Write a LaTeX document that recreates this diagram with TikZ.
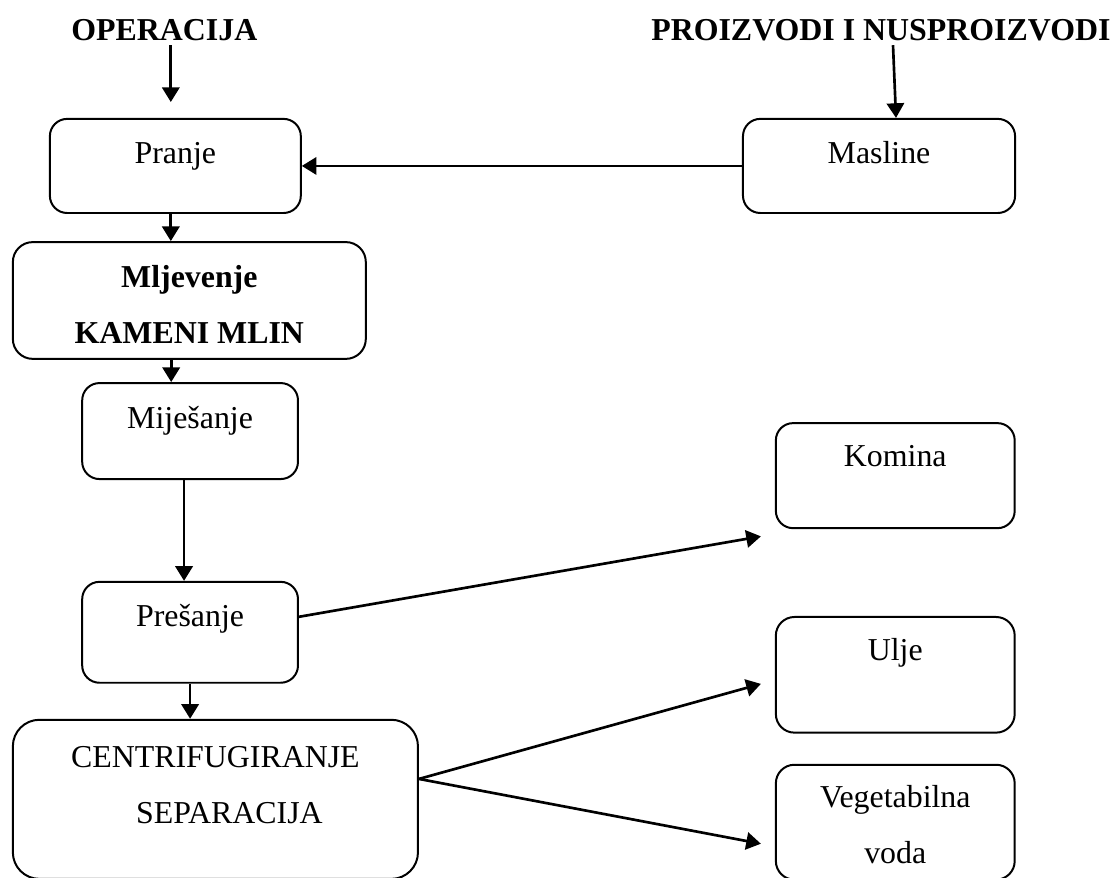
\documentclass[tikz,border=0pt]{standalone}
\usepackage{fontspec}
\setmainfont{Liberation Serif}
\usepackage{tikz}
\usetikzlibrary{positioning,arrows.meta}

\newcommand{\boxfont}{\fontsize{24}{42}\selectfont}

\begin{document}
\begin{tikzpicture}[
  box/.style={draw, line width=1.5pt, rounded corners=13pt, inner sep=0pt, align=center, anchor=north, font=\boxfont},
  head/.style={anchor=base, font=\boxfont\bfseries},
  arrow/.style={-{Triangle[length=11pt,width=13pt]}, line width=2pt},
]
\useasboundingbox (0,0) rectangle (29.61,23.23);

% Column headers
\node[head] (oper) at (4.35,22.17) {OPERACIJA};
\node[head] (proizv) at (23.31,22.17) {PROIZVODI I NUSPROIZVODI};

% Operations
\node[box, minimum width=6.64cm, text height=1.19cm, text depth=1.30cm] (pranje) at (4.64,20.11) {Pranje};
\node[box, minimum width=9.34cm, text height=2.67cm, text depth=0.42cm, rounded corners=15pt, font=\boxfont\bfseries] (mljevenje) at (5.01,16.85) {Mljevenje\\KAMENI MLIN};
\node[box, minimum width=5.71cm, text height=1.19cm, text depth=1.35cm] (mijesanje) at (5.03,13.12) {Miješanje};
\node[box, minimum width=5.71cm, text height=1.19cm, text depth=1.48cm] (presanje) at (5.03,7.86) {Prešanje};
\node[box, minimum width=10.72cm, text height=2.75cm, text depth=1.46cm, rounded corners=20pt] (centrif) at (5.70,4.21) {CENTRIFUGIRANJE\\\hspace*{0.74cm}SEPARACIJA};

% Products and by-products
\node[box, minimum width=7.20cm, text height=1.19cm, text depth=1.30cm] (masline) at (23.26,20.11) {Masline};
\node[box, minimum width=6.32cm, text height=1.14cm, text depth=1.64cm] (komina) at (23.69,12.06) {Komina};
\node[box, minimum width=6.32cm, text height=1.16cm, text depth=1.90cm, rounded corners=14pt] (ulje) at (23.69,6.93) {Ulje};
\node[box, minimum width=6.32cm, text height=2.62cm, text depth=0.42cm, rounded corners=14pt] (vegvoda) at (23.69,3.02) {Vegetabilna\\voda};

% Header arrows
\draw[arrow, shorten >=0.42cm] ([xshift=-0.12cm]pranje.north |- oper.south) -- ([xshift=-0.12cm]pranje.north);
\draw[arrow] ([xshift=0.32cm]proizv.south) -- ([xshift=0.45cm]masline.north);

% Process flow
\draw[arrow] (masline.west) -- (pranje.east);
\draw[arrow] ([xshift=-0.12cm]pranje.south) -- ([xshift=-0.12cm]pranje.south |- mljevenje.north);
\draw[arrow] ([xshift=-0.5cm]mijesanje.north |- mljevenje.south) -- ([xshift=-0.5cm]mijesanje.north);
\draw[arrow] ([xshift=-0.16cm]mijesanje.south) -- ([xshift=-0.16cm]mijesanje.south |- presanje.north);
\draw[arrow] (presanje.south) -- (presanje.south |- centrif.north);

% Outputs
\draw[arrow] ([yshift=0.41cm]presanje.east) -- ([xshift=-0.37cm,yshift=-0.19cm]komina.south west);
\coordinate (split) at ([yshift=0.54cm]centrif.east);
\draw[arrow] (split) -- ([xshift=-0.37cm,yshift=-0.24cm]ulje.west);
\draw[arrow] (split) -- ([xshift=-0.37cm,yshift=-0.57cm]vegvoda.west);

\end{tikzpicture}
\end{document}
